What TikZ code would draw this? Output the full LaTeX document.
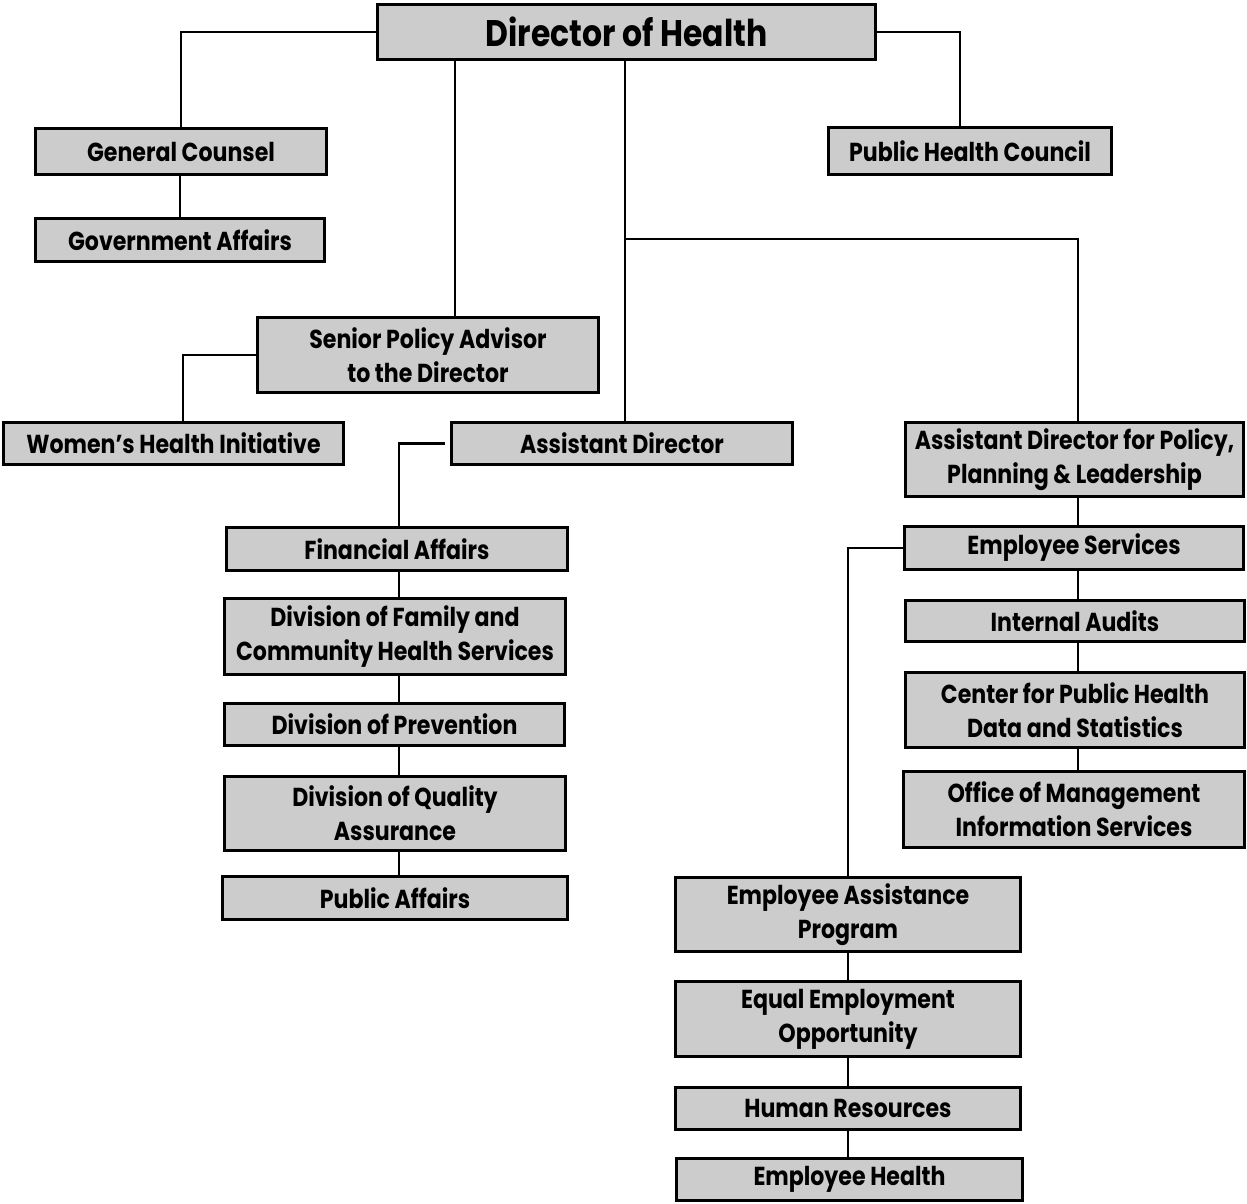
\documentclass[tikz,border=0pt]{standalone}
\usepackage{fontspec}
\setmainfont{Poppins}[FakeStretch=0.85]
\definecolor{boxgray}{HTML}{CCCCCC}
\tikzset{
  orgbox/.style={draw=black, line width=3pt, fill=boxgray, inner sep=0pt, align=center,
    font=\fontsize{26}{34}\selectfont\bfseries},
  link/.style={draw=black, line width=2.5pt}
}
% \bx{name}{x1}{y1}{x2}{y2}{text}
\newcommand{\bx}[6]{%
  \node[orgbox, minimum width={#4-#2-3}, minimum height={#5-#3-3}] (#1) at ({(#2+#4)/2},{(#3+#5)/2}) {#6};}
\begin{document}
\begin{tikzpicture}[x=1pt,y=-1pt]
\useasboundingbox (0,0) rectangle (1247,1204);
\coordinate (x180) at (180,0);
\coordinate (x960) at (960,0);
\coordinate (x455) at (455,0);
\coordinate (x625) at (625,0);
\coordinate (x1078) at (1078,0);
\coordinate (x183) at (183,0);
\coordinate (x399) at (399,0);
\coordinate (x848) at (848,0);
\coordinate (br) at (625,239);
\coordinate (esl) at (848,548);
\coordinate (spal) at (183,355);
% boxes
\node[orgbox, minimum width=498, minimum height=55, font=\fontsize{37}{44}\selectfont\bfseries] (dir) at (626.5,32) {Director of Health};
\bx{gc}{34}{127}{328}{176}{General Counsel}
\bx{ga}{34}{217}{326}{263}{Government Affairs}
\bx{phc}{827}{126}{1113}{176}{Public Health Council}
\bx{spa}{256}{316}{600}{394}{Senior Policy Advisor\\to the Director}
\bx{whi}{2}{421}{345}{466}{Women’s Health Initiative}
\bx{ad}{450}{421}{794}{466}{Assistant Director}
\bx{apl}{904}{421}{1245}{498}{Assistant Director for Policy,\\Planning \& Leadership}
\bx{fa}{225}{526}{569}{572}{Financial Affairs}
\bx{dfc}{223}{597}{567}{676}{Division of Family and\\Community Health Services}
\bx{dp}{223}{702}{566}{747}{Division of Prevention}
\bx{dqa}{223}{775}{567}{852}{Division of Quality\\Assurance}
\bx{pa}{221}{875}{569}{921}{Public Affairs}
\bx{es}{903}{525}{1245}{571}{Employee Services}
\bx{ia}{904}{599}{1246}{643}{Internal Audits}
\bx{cph}{904}{671}{1246}{749}{Center for Public Health\\Data and Statistics}
\bx{omis}{902}{770}{1246}{849}{Office of Management\\Information Services}
\bx{eap}{674}{876}{1022}{953}{Employee Assistance\\Program}
\bx{eeo}{674}{980}{1022}{1058}{Equal Employment\\Opportunity}
\bx{hr}{674}{1086}{1022}{1131}{Human Resources}
\bx{eh}{675}{1157}{1024}{1202}{Employee Health}
% connectors
\draw[link] (dir.west) -| (gc.north);
\draw[link] (gc.south -| x180) -- (ga.north -| x180);
\draw[link] (dir.east) -| (phc.north -| x960);
\draw[link] (dir.south -| x455) -- (spa.north -| x455);
\draw[link] (dir.south -| x625) -- (ad.north -| x625);
\draw[link] (br) -| (apl.north -| x1078);
\draw[link] (spa.west |- spal) -- (spal) -- (whi.north -| x183);
\draw[link] ([xshift=-5pt]ad.west) -- (ad.west -| x399) -- (fa.north -| x399);
\draw[link] (fa.south -| x399) -- (dfc.north -| x399);
\draw[link] (dfc.south -| x399) -- (dp.north -| x399);
\draw[link] (dp.south -| x399) -- (dqa.north -| x399);
\draw[link] (dqa.south -| x399) -- (pa.north -| x399);
\draw[link] (apl.south -| x1078) -- (es.north -| x1078);
\draw[link] (es.south -| x1078) -- (ia.north -| x1078);
\draw[link] (ia.south -| x1078) -- (cph.north -| x1078);
\draw[link] (cph.south -| x1078) -- (omis.north -| x1078);
\draw[link] (es.west) -- (esl) -- (eap.north -| x848);
\draw[link] (eap.south -| x848) -- (eeo.north -| x848);
\draw[link] (eeo.south -| x848) -- (hr.north -| x848);
\draw[link] (hr.south -| x848) -- (eh.north -| x848);
\end{tikzpicture}
\end{document}
